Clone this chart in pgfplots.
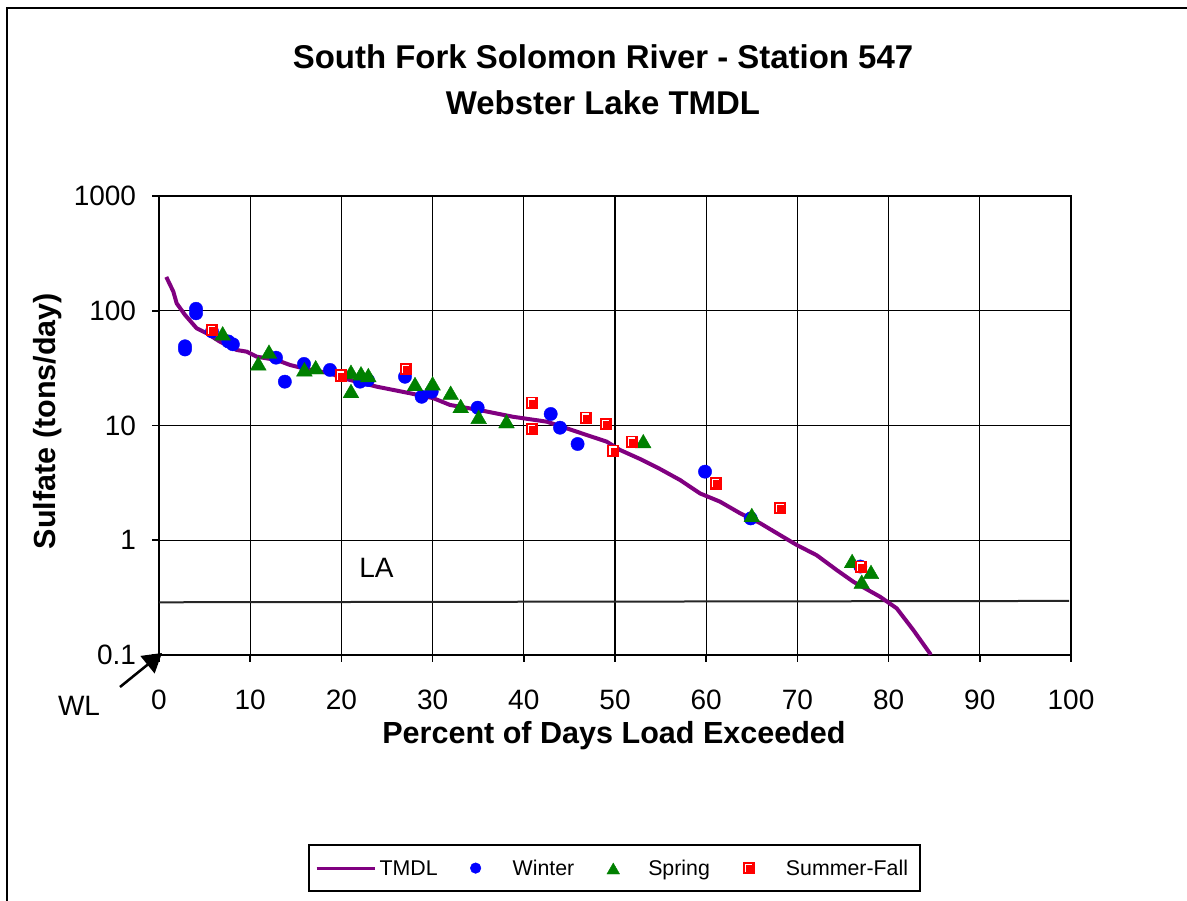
\documentclass[border=0pt]{standalone}
\usepackage{fontspec}
\setmainfont{Liberation Sans}
\usepackage{pgfplots}
\pgfplotsset{compat=1.18}
\usetikzlibrary{arrows.meta}
\definecolor{tmdl}{RGB}{128,0,128}
\definecolor{wblue}{RGB}{0,0,255}
\definecolor{sgreen}{RGB}{0,128,0}
\definecolor{sfred}{RGB}{255,0,0}

\pgfdeclareplotmark{sqhl}{%
  \pgfpathrectangle{\pgfpoint{-\pgfplotmarksize}{-\pgfplotmarksize}}{\pgfpoint{2\pgfplotmarksize}{2\pgfplotmarksize}}%
  \pgfusepathqfill
  \pgfscope
  \pgfsetstrokecolor{white}%
  \pgfsetlinewidth{0.18\pgfplotmarksize}%
  \pgfpathmoveto{\pgfpoint{-0.55\pgfplotmarksize}{-0.65\pgfplotmarksize}}%
  \pgfpathlineto{\pgfpoint{-0.55\pgfplotmarksize}{0.6\pgfplotmarksize}}%
  \pgfpathlineto{\pgfpoint{0.6\pgfplotmarksize}{0.6\pgfplotmarksize}}%
  \pgfusepathqstroke
  \endpgfscope
}

\begin{document}
\begin{tikzpicture}
\useasboundingbox (0,0) rectangle (890.25bp,675.75bp);
\begin{axis}[
  at={(119.25bp,184.5bp)}, anchor=south west,
  scale only axis, width=684bp, height=344.25bp,
  xmin=0, xmax=100, ymin=0.1, ymax=1000, ymode=log,
  xtick={0,10,20,30,40,50,60,70,80,90,100},
  xticklabels={0,10,20,30,40,50,60,70,80,90,100},
  ytick={0.1,1,10,100,1000},
  yticklabels={0.1,1,10,100,1000},
  yminorticks=false, xminorticks=false,
  grid=major, major grid style={black, line width=0.9bp},
  axis line style={black, line width=1.2bp},
  tick pos=left, tick align=outside, major tick length=5bp,
  tick style={black, line width=1.2bp},
  xticklabel style={font=\fontsize{21bp}{25bp}\selectfont, inner sep=0pt, anchor=north, yshift=-21bp},
  yticklabel style={font=\fontsize{21bp}{25bp}\selectfont, inner sep=0pt, anchor=east, xshift=-12bp},
  legend columns=4,
  legend cell align=left,
  legend style={at={(0.1634,-0.4118)}, anchor=north west, draw=black, line width=1.5bp,
     inner xsep=4.5bp, inner ysep=10bp, column sep=0pt, font=\fontsize{16bp}{19bp}\selectfont,
     nodes={inner sep=0pt, text height=13bp, text depth=1.6bp}},
]
\addplot[black!85, line width=1.5bp, forget plot] coordinates {(0,0.288) (99.8,0.296)};

\addplot[tmdl, line width=3bp, no markers,
  legend image code/.code={\path[draw=none,fill=none] (0bp,-2bp) rectangle (48bp,2bp); \draw[line width=2.3bp] (0.75bp,0bp) -- (44.25bp,0bp);}]
  coordinates {
(0.8,197) (1.57,147) (1.94,116) (2.85,92) (4.13,70.3) (5.23,63.6) (6.69,53.7)
(8.52,45.5) (9.62,44.0) (10.71,39.8) (12.91,37.2) (14.36,33.7) (15.82,31.5)
(18.75,28.5) (20.21,25.8) (23.87,21.8) (27.52,19.1) (30.08,17.3) (31.91,15.1)
(35.20,13.6) (38.85,11.9) (42.51,10.8) (44.70,9.45) (46.90,8.26) (49.09,7.23)
(50.55,6.12) (52.74,5.11) (54.93,4.18) (57.13,3.35) (59.32,2.56) (61.51,2.17)
(63.71,1.72) (65.90,1.41) (68.09,1.11) (69.92,0.91) (72.12,0.74) (74.31,0.55)
(76.13,0.435) (79.06,0.322) (80.89,0.255) (82.71,0.165) (84.54,0.103) (84.6,0.1)
};
\addlegendentry{TMDL}

\addplot[only marks, mark=*, mark size=5bp, color=wblue, line width=0.3bp,
  legend image code/.code={\path[draw=none,fill=none] (0bp,-2bp) rectangle (56.25bp,2bp); \draw[mark size=4bp] plot coordinates {(28.5bp,0bp)};}]
  coordinates {
(2.85,49) (2.85,46) (4.06,104) (4.06,95) (5.81,66) (7.6,54) (8.1,51)
(12.83,39) (13.8,24.1) (15.9,34.4) (18.75,30.5) (22.04,24.1) (22.9,24.9)
(26.97,26.6) (28.8,17.8) (29.9,19.7) (34.94,14.3) (42.95,12.6) (43.97,9.57)
(45.9,6.9) (59.87,3.96) (64.88,1.55) (76.9,0.59)
};
\addlegendentry{Winter}

\addplot[only marks, mark=triangle*, mark size=6.8bp, color=sgreen, line width=0.3bp,
  mark options={yshift=-1.7bp},
  legend image code/.code={\path[draw=none,fill=none] (0bp,-2bp) rectangle (55.5bp,2bp); \draw[mark size=5.5bp] plot coordinates {(29.25bp,0bp)};}]
  coordinates {
(6.98,63.6) (10.89,34.8) (12.06,44) (15.94,30.9) (17.18,32.2) (21.05,29.4)
(21.05,20.0) (22.15,28.5) (22.95,27.5) (28.07,23.0) (30.0,23.3) (31.98,19.3)
(33.08,14.8) (35.05,11.9) (38.1,10.9) (53.1,7.3) (65.0,1.66) (76.0,0.66)
(78.07,0.53) (77.05,0.435)
};
\addlegendentry{Spring}

\addplot[only marks, mark=sqhl, mark size=4.6bp, color=sfred, line width=0.3bp,
  legend image code/.code={\path[draw=none,fill=none] (0bp,-2bp) rectangle (57bp,2bp); \draw[mark size=4.2bp] plot coordinates {(29.25bp,0bp)};}]
  coordinates {
(5.78,68) (19.92,27.2) (27.05,30.9) (40.86,15.8) (40.86,9.27) (46.78,11.7)
(48.98,10.3) (49.82,6.03) (51.83,7.23) (61.04,3.13) (68.09,1.90) (76.94,0.588)
};
\addlegendentry{Summer-Fall\hspace*{4.5bp}}
\end{axis}

\begin{scope}[x=0.75bp, y=-0.75bp, yshift=675.75bp]
\draw[line width=1.5bp] (7,905) -- (7,8) -- (1195,8);
\node[anchor=base, font=\fontsize{24.7bp}{30bp}\selectfont\bfseries] at (603,68.8) {South Fork Solomon River - Station 547};
\node[anchor=base, font=\fontsize{24.7bp}{30bp}\selectfont\bfseries] at (603,114.8) {Webster Lake TMDL};
\node[anchor=base, font=\fontsize{22.9bp}{28bp}\selectfont\bfseries] at (614,744) {Percent of Days Load Exceeded};
\node[anchor=base, rotate=90, font=\fontsize{22.9bp}{28bp}\selectfont\bfseries] at (55,421) {Sulfate (tons/day)};
\node[anchor=base, font=\fontsize{21bp}{25bp}\selectfont] at (376.5,578) {LA};
\node[anchor=base, font=\fontsize{21bp}{25bp}\selectfont] at (79,716) {WL};
\draw[line width=1.9bp, -{Triangle[length=14bp,width=16.5bp]}] (120,687) -- (162,653);
\end{scope}
\end{tikzpicture}
\end{document}
